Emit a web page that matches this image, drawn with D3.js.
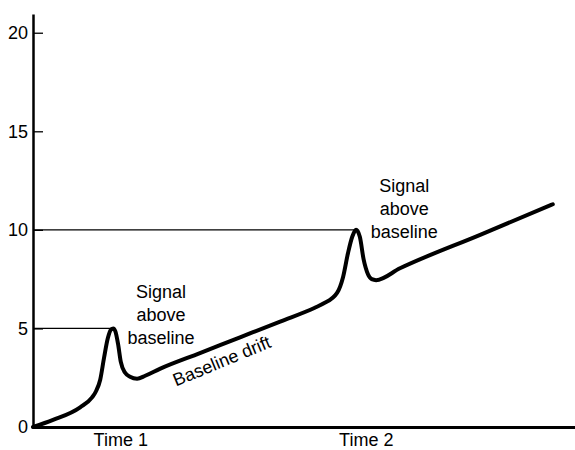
<!DOCTYPE html>
<html>
<head>
<meta charset="utf-8">
<script src="https://cdn.jsdelivr.net/npm/d3@7"></script>
<style>
  html, body { margin: 0; padding: 0; background: #fff; }
  svg text { font-family: "Liberation Sans", Arial, Helvetica, sans-serif; fill: #000; }
</style>
</head>
<body>
<svg id="chart" width="575" height="450"></svg>
<script>
// ---- data ----
const signalTime = [0, 3.7, 8.7, 10.9, 11.6, 12.4, 13.1, 13.8, 14.4, 14.8, 15.2, 15.7, 16.2, 17.0, 17.9, 19.2, 20.7, 23.4, 30.8, 38.2, 45.6, 52.0, 53.5, 56.1, 57.2, 58.1, 58.9, 59.6, 60.3, 61.0, 61.8, 62.5, 63.3, 67.7, 82.5, 95.9];
const signalValue = [0, 0.36, 1.0, 1.5, 1.8, 2.4, 3.5, 4.5, 4.95, 5.0, 4.85, 4.2, 3.3, 2.75, 2.55, 2.45, 2.6, 2.95, 3.75, 4.55, 5.35, 6.05, 6.25, 6.8, 7.6, 8.8, 9.65, 10.0, 9.65, 8.5, 7.75, 7.5, 7.45, 8.05, 9.75, 11.3];
const yTicks = [0, 5, 10, 15, 20];
const timeLabels = ["Time 1", "Time 2"];
const timeLabelPos = [16.1, 61.4];
const peakTime = [14.8, 59.6];
const peakValue = [5, 10];
const annotationLines = ["Signal", "above", "baseline"];
const annotationTime = [23.6, 68.5];
const annotationValue = [6.55, 11.92];
const driftLabel = "Baseline drift";
const driftLabelTime = 26.4;
const driftLabelValue = 2.05;

// ---- layout ----
const svg = d3.select("#chart");
const x = d3.scaleLinear().domain([0, 100]).range([33, 575]);
const y = d3.scaleLinear().domain([0, 20.95]).range([427, 14]);
const fontSize = 18;

// horizontal reference lines to peaks
svg.append("g").selectAll("line")
  .data(peakTime.map((t, i) => ({ t, v: peakValue[i] })))
  .join("line")
  .attr("x1", x(0)).attr("x2", d => x(d.t))
  .attr("y1", d => y(d.v)).attr("y2", d => y(d.v))
  .attr("stroke", "#000").attr("stroke-width", 1.2);

// y axis
const yAxis = d3.axisLeft(y).tickValues(yTicks).tickSizeInner(-10).tickSizeOuter(0).tickPadding(5);
const gy = svg.append("g").attr("transform", `translate(${x(0)},0)`).call(yAxis);
gy.select(".domain").attr("stroke", "#000").attr("stroke-width", 2.5);
gy.selectAll(".tick line").attr("stroke", "#000").attr("stroke-width", 1.3);
gy.selectAll(".tick text").attr("font-size", fontSize).attr("font-family", "Liberation Sans, Arial, sans-serif");

// x axis
const xAxis = d3.axisBottom(x).tickValues(timeLabelPos).tickFormat((d, i) => timeLabels[i]).tickSize(0).tickPadding(6);
const gx = svg.append("g").attr("transform", `translate(0,${y(0)})`).call(xAxis);
gx.select(".domain").attr("stroke", "#000").attr("stroke-width", 3);
gx.selectAll(".tick text").attr("font-size", fontSize).attr("font-family", "Liberation Sans, Arial, sans-serif");

// signal curve
const pts = signalTime.map((t, i) => [t, signalValue[i]]);
const line = d3.line().x(d => x(d[0])).y(d => y(d[1])).curve(d3.curveMonotoneX);
svg.append("path")
  .datum(pts)
  .attr("d", line)
  .attr("fill", "none")
  .attr("stroke", "#000")
  .attr("stroke-width", 4)
  .attr("stroke-linecap", "round")
  .attr("stroke-linejoin", "round");

// annotations
annotationTime.forEach((t, i) => {
  const g = svg.append("text")
    .attr("text-anchor", "middle")
    .attr("font-size", fontSize);
  annotationLines.forEach((s, j) => {
    g.append("tspan")
      .attr("x", x(t))
      .attr("y", y(annotationValue[i]) + j * 23)
      .text(s);
  });
});

svg.append("text")
  .attr("font-size", fontSize)
  .attr("transform", `translate(${x(driftLabelTime)},${y(driftLabelValue)}) rotate(-22.5)`)
  .text(driftLabel);
</script>
</body>
</html>
